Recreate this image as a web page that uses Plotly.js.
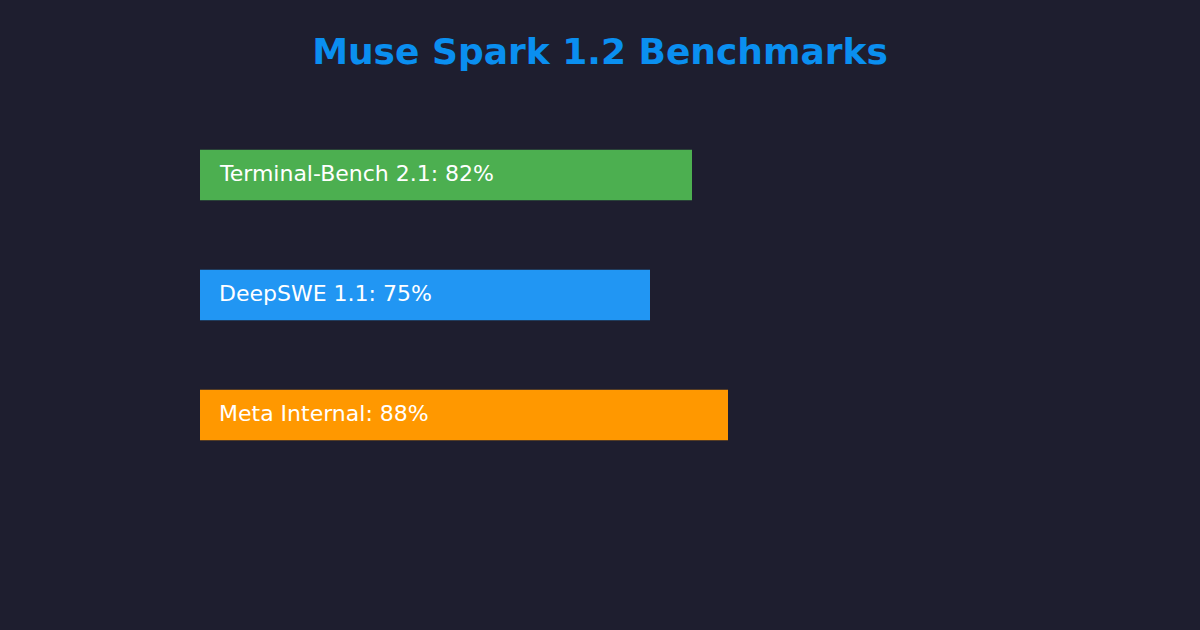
<!DOCTYPE html>
<html>
<head>
<meta charset="utf-8">
<script src="https://cdn.plot.ly/plotly-3.0.1.min.js"></script>
<style>
  html, body { margin: 0; padding: 0; background: #1e1e2f; }
  #plotDiv { width: 1200px; height: 630px; }
</style>
</head>
<body>
<div id="plotDiv"></div>
<script>
'use strict';

// benchmark names and scores (percent)
const benchmarks = ['Terminal-Bench 2.1', 'DeepSWE 1.1', 'Meta Internal'];
const scores = [82, 75, 88];
const barColors = ['#4caf50', '#2196f3', '#ff9800'];

var data = [{
    type: 'bar',
    orientation: 'h',
    y: benchmarks,
    x: scores,
    width: 0.42,
    marker: {color: barColors, line: {width: 0}},
    hoverinfo: 'none'
}];

// labels sit inside each bar, a little right of its start
var annotations = benchmarks.map(function(name, i){
    return {
        x: 0, y: name, xref: 'x', yref: 'y',
        text: name + ': ' + scores[i] + '%',
        showarrow: false,
        xanchor: 'left', yanchor: 'middle',
        xshift: 17, yshift: 2,
        font: {family: 'DejaVu Sans', size: 22, color: '#ffffff'}
    };
});

var layout = {
    width: 1200,
    height: 630,
    paper_bgcolor: '#1e1e2f',
    plot_bgcolor: '#1e1e2f',
    showlegend: false,
    title: {
        text: '<b>Muse Spark 1.2 Benchmarks</b>',
        font: {family: 'DejaVu Sans', size: 36, color: '#0a8ff0'},
        x: 0.5, xanchor: 'center',
        y: 1 - 51/630, yref: 'container', yanchor: 'middle'
    },
    margin: {l: 200, r: 400, t: 115, b: 155, pad: 0},
    xaxis: {
        range: [0, 100], visible: false, fixedrange: true
    },
    yaxis: {
        autorange: 'reversed', visible: false, fixedrange: true
    },
    annotations: annotations
};

Plotly.newPlot('plotDiv', data, layout, {displayModeBar: false, staticPlot: true});
</script>
</body>
</html>
